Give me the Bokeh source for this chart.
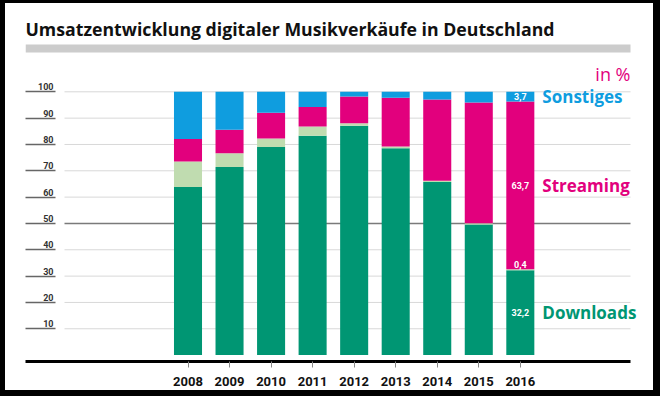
from bokeh.plotting import figure
from bokeh.models import ColumnDataSource, Range1d, FixedTicker, BoxAnnotation, Label
from bokeh.embed import file_html
from bokeh.resources import INLINE
from bokeh.core.properties import value

# ---- data (percent of digital music revenue, Germany) ----
years = [2008, 2009, 2010, 2011, 2012, 2013, 2014, 2015, 2016]
downloads = [63.8, 71.4, 79.0, 83.3, 87.1, 78.6, 65.7, 49.6, 32.2]
mobile = [9.7, 5.3, 3.3, 3.5, 1.0, 0.6, 0.5, 0.5, 0.4]
streaming = [8.6, 8.9, 9.7, 7.4, 10.1, 18.5, 30.9, 45.8, 63.7]
sonstiges = [17.9, 14.4, 8.0, 5.8, 1.8, 2.3, 2.9, 4.1, 3.7]
y_ticks = [10, 20, 30, 40, 50, 60, 70, 80, 90, 100]
series_labels = ["Downloads", "Streaming", "Sonstiges"]
title_text = "Umsatzentwicklung digitaler Musikverkäufe in Deutschland"
unit_text = "in %"

GREEN = "#009673"
LIGHT = "#c0dcb0"
PINK = "#e2007d"
BLUE = "#0f9ddf"

# ---- layout helpers (pixel geometry of the page) ----
PX_YEAR = 41.54      # px per year on x
PX_UNIT = 2.633      # px per percent on y


def xd(px):  # page x -> data x
    return 2008 + (px - 187.5) / PX_YEAR


def yd(py):  # page y -> data y
    return (354.6 - py) / PX_UNIT


X_START, X_END = xd(25), xd(650)
Y_START, Y_END = yd(361), yd(42)
X_RIGHT = xd(630)    # end of axis line / grid / band

p = figure(width=660, height=396, output_backend="svg", toolbar_location=None,
           x_range=Range1d(X_START, X_END), y_range=Range1d(Y_START, Y_END),
           min_border_left=25, min_border_right=10, min_border_top=42, min_border_bottom=35)
# black frame round the whole picture (canvas kept transparent so it shows)
p.styles = {"background-color": "white",
            "box-shadow": "inset 5px 3px 0 0 black, inset -7px -6px 0 0 black"}
p.outline_line_color = None
p.background_fill_color = None
p.border_fill_color = None
p.xgrid.grid_line_color = None
p.ygrid.grid_line_color = None

# title
p.title.text = title_text
p.title.text_font = "Open Sans"
p.title.text_font_style = "bold"
p.title.text_font_size = "17.7px"
p.title.text_color = "#111111"
p.title.align = "left"
p.title.standoff = 4

# grey band under title
p.add_layout(BoxAnnotation(left=X_START, right=X_RIGHT, bottom=yd(52), top=yd(44),
                           fill_color="#cccccc", fill_alpha=1.0, line_color=None,
                           level="underlay"))

# gridlines (start right of the tick stubs)
grid_colors = ["#7a7a7a" if t == 50 else "#d8d8d8" for t in y_ticks]
grid_widths = [1.5 if t == 50 else 1 for t in y_ticks]
p.segment(x0=[xd(64)] * len(y_ticks), x1=[X_RIGHT] * len(y_ticks), y0=y_ticks, y1=y_ticks,
          line_color=grid_colors, line_width=grid_widths)

# stacked bars
src = ColumnDataSource(dict(year=years, Downloads=downloads, Mobile=mobile,
                            Streaming=streaming, Sonstiges=sonstiges))
p.vbar_stack(["Downloads", "Mobile", "Streaming", "Sonstiges"], x="year", width=0.675,
             color=[GREEN, LIGHT, PINK, BLUE], line_color=None, source=src)

# y tick labels sitting above the tick stubs
p.text(x=[xd(53)] * len(y_ticks), y=y_ticks, text=[str(t) for t in y_ticks],
       text_align="right", text_baseline="alphabetic", y_offset=-5,
       text_font=value("Roboto"), text_font_style="bold", text_font_size="9px",
       text_color="#333333")

# value labels in the last bar
last = years[-1]
d, m, s, o = downloads[-1], mobile[-1], streaming[-1], sonstiges[-1]


def fmt(v):
    return f"{v:.1f}".replace(".", ",")


mids = [d / 2, d + m + s / 2, d + m + s + o / 2]
p.text(x=[last] * 3, y=mids, text=[fmt(d), fmt(s), fmt(o)], text_align="center",
       text_baseline="middle", text_font=value("Roboto"), text_font_style="bold",
       text_font_size="9px", text_color="white")
p.text(x=[last], y=[d + m], text=[fmt(m)], text_align="center", text_baseline="bottom",
       y_offset=-1, text_font=value("Roboto"), text_font_style="bold", text_font_size="9px",
       text_color="white")

# series labels to the right of the last bar
for name, yy, col in zip(series_labels, mids, [GREEN, PINK, BLUE]):
    p.add_layout(Label(x=last, y=yy, x_offset=22, text=name, text_font="Open Sans",
                       text_font_style="bold", text_font_size="17px", text_color=col,
                       text_baseline="middle", text_align="left"))

p.add_layout(Label(x=X_RIGHT, y=yd(73.5), text=unit_text, text_font="Open Sans",
                   text_font_size="18px", text_color=PINK, text_baseline="middle",
                   text_align="right"))

# x axis
xa = p.xaxis[0]
xa.ticker = FixedTicker(ticks=years)
xa.bounds = (X_START, X_RIGHT)
xa.axis_line_color = "black"
xa.axis_line_width = 3
xa.major_tick_in = 0
xa.major_tick_out = 6
xa.major_tick_line_color = "#888888"
xa.minor_tick_line_color = None
xa.major_label_standoff = 9
xa.major_label_text_font = "Roboto"
xa.major_label_text_font_style = "bold"
xa.major_label_text_font_size = "13px"
xa.major_label_text_color = "#111111"

# y axis: only the short stubs left of the grid
ya = p.yaxis[0]
ya.ticker = FixedTicker(ticks=y_ticks)
ya.axis_line_color = None
ya.major_tick_in = 30
ya.major_tick_out = 0
ya.major_tick_line_color = "#666666"
ya.major_tick_line_width = 1.5
ya.minor_tick_line_color = None
ya.major_label_overrides = {t: "" for t in y_ticks}
ya.major_label_standoff = 0

open("out.html", "w").write(file_html(p, INLINE))
